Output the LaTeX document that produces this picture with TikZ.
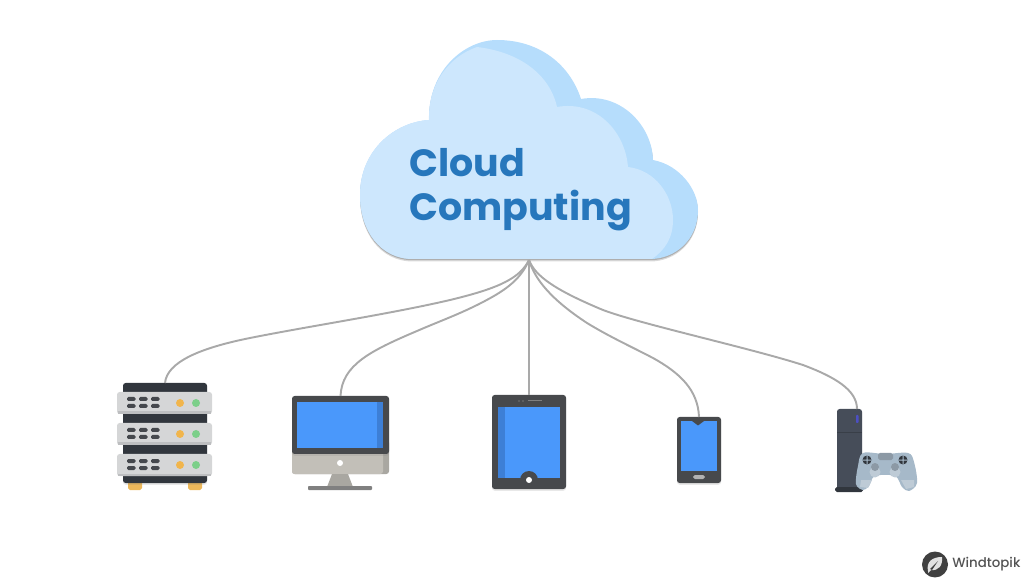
\documentclass[tikz,border=0pt]{standalone}
\usepackage{fontspec}
\usetikzlibrary{shadows}
\newfontfamily\titlefont{Poppins}
\newfontfamily\brandfont{Poppins Medium}
\definecolor{cloudback}{HTML}{B6DDFC}
\definecolor{cloudfront}{HTML}{CDE7FD}
\definecolor{titleblue}{HTML}{2777BC}
\definecolor{wire}{HTML}{A9A9A9}
\definecolor{rack}{HTML}{31363D}
\definecolor{tray}{HTML}{D5D6D7}
\definecolor{trayedge}{HTML}{BDBEC0}
\definecolor{slot}{HTML}{45484D}
\definecolor{ledorange}{HTML}{F1B54C}
\definecolor{ledgreen}{HTML}{7CCF8A}
\definecolor{foot}{HTML}{EDB85A}
\definecolor{screenblue}{HTML}{4A98FB}
\definecolor{screenshade}{HTML}{3D7FD6}
\definecolor{frame}{HTML}{47494C}
\definecolor{chin}{HTML}{C2BFB8}
\definecolor{chinshade}{HTML}{A9A7A1}
\definecolor{consolebody}{HTML}{464D59}
\definecolor{pad}{HTML}{A6B9C9}
\definecolor{padlight}{HTML}{BECBD6}
\definecolor{padgray}{HTML}{8C99A5}
\definecolor{badge}{HTML}{404040}
\tikzset{
    box/.style 2 args={minimum width=#1*0.02cm, minimum height=#2*0.02cm, inner sep=0pt, outer sep=0pt},
    bodyfill/.style={box={#1}, draw=none, rounded corners=1.5pt,
      drop shadow={opacity=0.18, shadow xshift=0pt, shadow yshift=-1pt}},
    wireline/.style={draw=wire, line width=1.1pt},
    titletext/.style={anchor=base west, inner sep=0pt, text=titleblue, font=\titlefont\bfseries\fontsize{21.6}{22}\selectfont},
}
\newcommand{\cloudoutline}{(413,259) .. controls (380,259) and (360,230) .. (360,195)
    .. controls (360,150) and (395,122) .. (429,120)
    .. controls (428,70) and (465,40) .. (497,40)
    .. controls (540,40) and (570,65) .. (581,99)
    .. controls (620,92) and (652,125) .. (653,160)
    .. controls (680,165) and (698,190) .. (698,210)
    .. controls (698,240) and (675,259) .. (650,259) -- cycle}
\begin{document}
\begin{tikzpicture}[x=0.02cm,y=-0.02cm]
    \useasboundingbox (0,0) rectangle (1032,584);
    % cloud
    \fill[black,opacity=0.15,yshift=-0.05cm] \cloudoutline;
    \fill[black,opacity=0.2,yshift=-0.025cm] \cloudoutline;
    \fill[cloudback] \cloudoutline;
    \fill[cloudfront] (477,47) .. controls (520,52) and (550,75) .. (557,107)
      .. controls (595,100) and (625,130) .. (628,167)
      .. controls (655,170) and (673,195) .. (673,220)
      .. controls (673,238) and (665,250) .. (652,259) -- (413,259)
      .. controls (380,259) and (360,230) .. (360,195)
      .. controls (360,150) and (395,122) .. (429,120)
      .. controls (428,85) and (448,57) .. (477,47) -- cycle;
    \node[titletext] (cloudword) at (409,177) {Cloud};
    \node[titletext] (computingword) at (409,221) {Computing};
    \coordinate (hub) at (529,260);
    % server
    \foreach \x in {128,188}{
      \fill[foot,rounded corners=1pt] (\x,480) rectangle (\x+14,490);
    }
    \node[bodyfill={84}{100},fill=rack] (server) at (165,433) {};
    \foreach \y in {392,423,454}{
      \fill[tray,rounded corners=1.5pt] (117,\y) rectangle (212,\y+22);
      \fill[trayedge] (118,\y+19.5) rectangle (211,\y+22);
      \foreach \x in {127,139,151}{
        \fill[slot,rounded corners=0.8pt] (\x,\y+5) rectangle (\x+8.5,\y+9);
        \fill[slot,rounded corners=0.8pt] (\x,\y+12) rectangle (\x+8.5,\y+16);
      }
      \fill[ledorange] (180,\y+11) circle (4);
      \fill[ledgreen] (196,\y+11) circle (4);
    }
    % monitor
    \fill[chinshade,rounded corners=1.5pt] (292,440) rectangle (389,474);
    \fill[chin,rounded corners=1.5pt] (292,440) rectangle (383,474);
    \fill[chinshade] (332,474) -- (348,474) -- (353,487) -- (327,487) -- cycle;
    \fill[gray,rounded corners=0.5pt] (308,486) rectangle (372,490);
    \node[bodyfill={97}{58},fill=frame] (monitor) at (340.5,425) {};
    \fill[screenblue] (297,402) rectangle (383,448);
    \fill[screenshade] (377,402) rectangle (383,448);
    \fill[white] (340,463) circle (3);
    % tablet
    \node[bodyfill={74}{94},fill=frame] (tablet) at (529,442) {};
    \fill[screenblue] (498,407) rectangle (560,478);
    \fill[screenshade] (498,407) rectangle (505,478);
    \fill[frame] (529,480) circle (9);
    \fill[white] (529,480) circle (3);
    \fill[gray] (528,400) rectangle (542,401.5);
    \fill[black!60] (519,401) circle (1.2) (523,401) circle (1.2);
    % phone
    \node[bodyfill={44}{66},fill=frame] (phone) at (699,450) {};
    \fill[screenblue] (681,421) rectangle (717,471);
    \fill[frame] (692,421) -- (704,421) -- (698,425.5) -- cycle;
    \fill[gray!60,rounded corners=1pt] (693,475) rectangle (705,479);
    % console
    \node[bodyfill={25}{80},fill=consolebody] (console) at (849.5,449) {};
    \fill[rack,rounded corners=1pt] (835,487) rectangle (863,492);
    \fill[rack,opacity=0.6] (837,432) rectangle (862,433.5);
    \fill[consolebody!45!blue!80!white,rounded corners=0.5pt] (856,415) rectangle (858.5,423);
    \coordinate (consoletop) at (857,409);
    \fill[pad] plot[smooth cycle,tension=0.55] coordinates {(863,453) (885,454) (908,453) (914,462) (917,483) (909,491) (902,487) (895,476) (875,476) (869,486) (863,490) (856,484) (858,466)};
    \fill[padlight] (861,480) -- (872,480) -- (868,488) -- (860,487) -- cycle;
    \fill[padlight] (901,480) -- (914,480) -- (914,487) -- (906,489) -- cycle;
    \fill[padlight] (875,472) circle (5.5) (895,472) circle (5.5);
    \fill[padgray,rounded corners=1pt] (878,453) rectangle (893,460);
    \fill[padgray] (875,467) circle (4) (895,467) circle (4);
    \foreach \x in {867,903}{
      \fill[rack] (\x,460) circle (4.5);
      \fill[pad] (\x-4.5,459.5) rectangle (\x+4.5,460.5) (\x-0.5,455.5) rectangle (\x+0.5,464.5);
    }
    % connectors
    \draw[wireline] (hub) .. controls (520,278) and (500,288) .. (450,300)
      .. controls (390,314) and (310,326) .. (250,338)
      .. controls (200,348) and (167,362) .. (server.north);
    \draw[wireline] (hub) .. controls (520,282) and (500,293) .. (483,302)
      .. controls (460,314) and (440,321) .. (417,331)
      .. controls (370,351) and (342,365) .. (monitor.north);
    \draw[wireline] (hub) -- (tablet.north);
    \draw[wireline] (hub) .. controls (535,280) and (552,300) .. (587,323)
      .. controls (610,337) and (630,346) .. (653,358)
      .. controls (680,373) and (698,390) .. (phone.north);
    \draw[wireline] (hub) .. controls (535,276) and (555,290) .. (603,310)
      .. controls (640,324) and (750,348) .. (803,365)
      .. controls (835,377) and (857,390) .. (consoletop);
    % badge
    \node[circle,fill=badge,minimum size=0.52cm,inner sep=0pt] (badge) at (935,564.5) {};
    \fill[white!85!badge] (928,571) .. controls (926,562) and (932,557) .. (942,557)
      .. controls (943,566) and (938,571) .. (931,570) -- (928,573) -- cycle;
    \fill[badge] (930,569) -- (938,561) -- (932,570) -- cycle;
    \node[anchor=base west,inner sep=0pt,text=badge!90,font=\brandfont\fontsize{7.6}{8}\selectfont] (brand) at (952,567) {Windtopik};
\end{tikzpicture}
\end{document}
